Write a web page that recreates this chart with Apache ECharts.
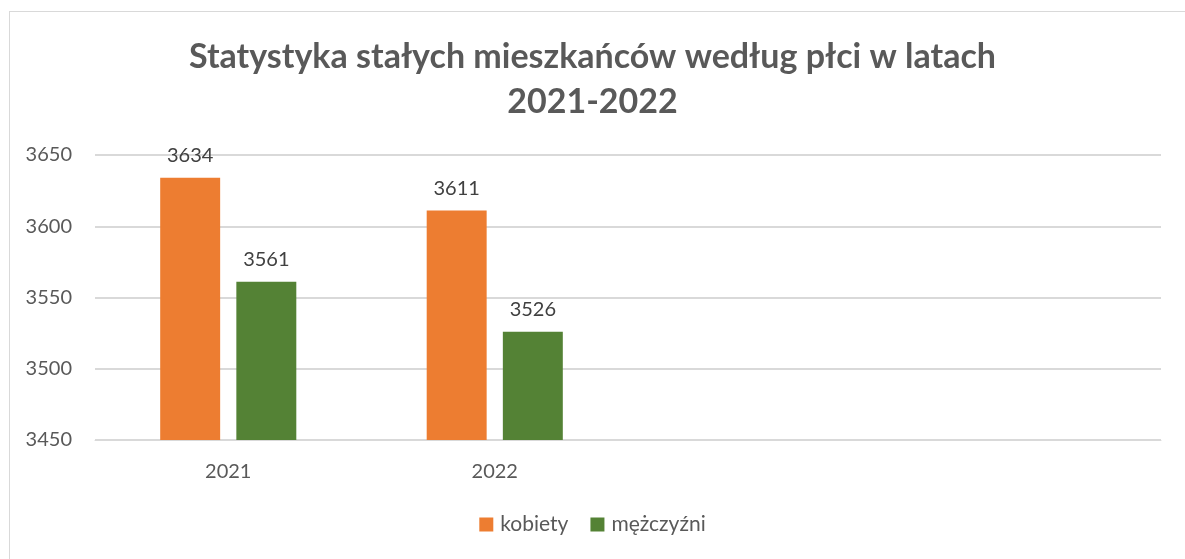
<!DOCTYPE html>
<html>
<head>
<meta charset="utf-8">
<script src="https://cdn.jsdelivr.net/npm/echarts@6/dist/echarts.min.js"></script>
<style>
  html, body { margin: 0; padding: 0; background: #fff; }
  #chart { width: 1185px; height: 559px; }
  .frame { position: absolute; left: 9px; top: 11px; width: 1200px; height: 560px; border: 1px solid #d9d9d9; box-sizing: border-box; pointer-events: none; }
</style>
</head>
<body>
<div id="chart"></div>
<div class="frame"></div>
<script>
// data
const years = ['2021', '2022', '', ''];
const kobiety = [3634, 3611, null, null];
const mezczyzni = [3561, 3526, null, null];
const yTicks = [3450, 3500, 3550, 3600, 3650];

const FONT = 'Lato, "Open Sans", sans-serif';

var myChart = echarts.init(document.getElementById('chart'));

option = {
    animation: false,
    backgroundColor: '#fff',
    textStyle: { fontFamily: FONT },
    title: {
        text: 'Statystyka stałych mieszkańców według płci w latach\n2021-2022',
        left: 'center',
        top: 30,
        textStyle: {
            fontFamily: FONT,
            fontSize: 34,
            fontWeight: 'bold',
            color: '#595959',
            lineHeight: 45
        }
    },
    legend: {
        top: 509,
        left: 'center',
        itemWidth: 14,
        itemHeight: 14,
        itemGap: 22,
        icon: 'rect',
        textStyle: { fontSize: 21, color: '#595959', fontFamily: FONT, padding: [0, 0, 0, 2] },
        data: ['kobiety', 'mężczyźni']
    },
    grid: {
        left: 95,
        right: 24,
        top: 155,
        bottom: 119,
        containLabel: false
    },
    xAxis: {
        type: 'category',
        data: years,
        axisLine: { lineStyle: { color: '#d9d9d9', width: 1 } },
        axisTick: { show: false },
        axisLabel: { fontSize: 20, color: '#595959', margin: 22 }
    },
    yAxis: {
        type: 'value',
        min: yTicks[0],
        max: yTicks[yTicks.length - 1],
        interval: 50,
        axisLine: { show: false },
        axisTick: { show: false },
        splitLine: { lineStyle: { color: '#d9d9d9', width: 2 } },
        axisLabel: {
            fontSize: 20,
            color: '#595959',
            margin: 23,
            align: 'right',
            formatter: function (v) { return String(v); }
        }
    },
    color: ['#ed7d31', '#548235'],
    series: [
        {
            name: 'kobiety',
            type: 'bar',
            data: kobiety,
            barWidth: '22.5%',
            barGap: '27%',
            label: { show: true, position: 'top', distance: 12, fontSize: 20, color: '#404040' }
        },
        {
            name: 'mężczyźni',
            type: 'bar',
            data: mezczyzni,
            barWidth: '22.5%',
            label: { show: true, position: 'top', distance: 12, fontSize: 20, color: '#404040' }
        }
    ]
};

myChart.setOption(option, true);
</script>
</body>
</html>
